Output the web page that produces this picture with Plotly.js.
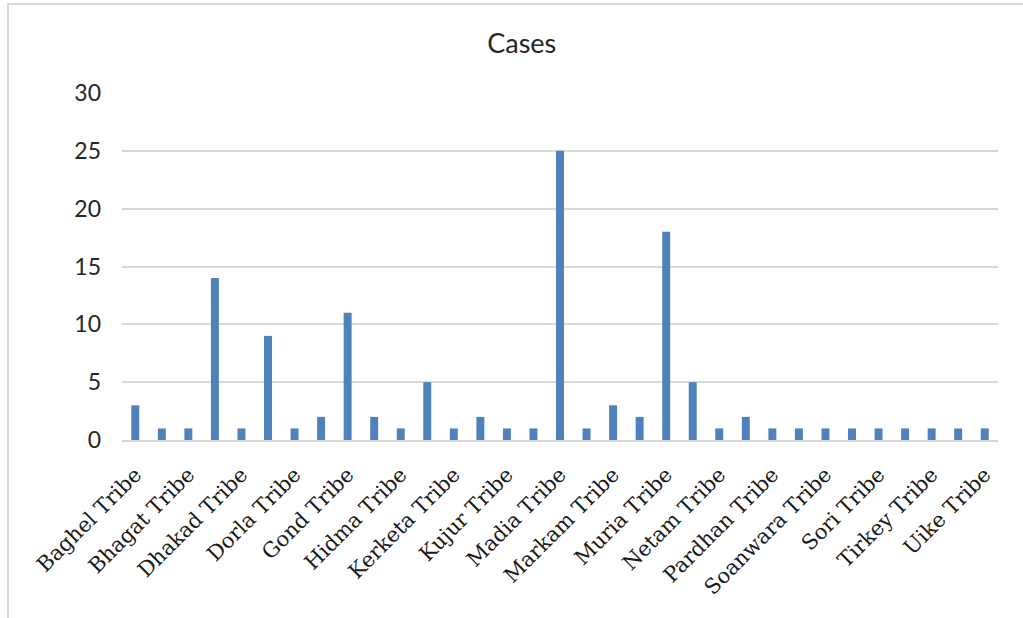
<!DOCTYPE html>
<html>
<head>
<meta charset="utf-8">
<script src="https://cdn.plot.ly/plotly-3.0.1.min.js"></script>
<style>
html,body{margin:0;padding:0;background:#fff;}
#frame{position:absolute;left:7px;top:3px;width:1016px;height:615px;border-left:2px solid #d9d9d9;border-top:2px solid #d9d9d9;box-sizing:border-box;}
#chart{position:absolute;left:0;top:0;width:1023px;height:618px;}
</style>
</head>
<body>
<div id="chart"></div>
<div id="frame"></div>
<script>
const categories = [
  "Baghel Tribe","Baiga Tribe","Bhagat Tribe","Bhatra Tribe","Dhakad Tribe","Dhurwa Tribe",
  "Dorla Tribe","Gadba Tribe","Gond Tribe","Halba Tribe","Hidma Tribe","Kawar Tribe",
  "Kerketa Tribe","Kodopi Tribe","Kujur Tribe","Kunjam Tribe","Madia Tribe","Mandavi Tribe",
  "Markam Tribe","Minj Tribe","Muria Tribe","Nag Tribe","Netam Tribe","Oraon Tribe",
  "Pardhan Tribe","Poyam Tribe","Soanwara Tribe","Sodhi Tribe","Sori Tribe","Tati Tribe",
  "Tirkey Tribe","Toppo Tribe","Uike Tribe"
];
const cases = [3,1,1,14,1,9,1,2,11,2,1,5,1,2,1,1,25,1,3,2,18,5,1,2,1,1,1,1,1,1,1,1,1];
const labeledTicks = ["Baghel Tribe","Bhagat Tribe","Dhakad Tribe","Dorla Tribe","Gond Tribe",
  "Hidma Tribe","Kerketa Tribe","Kujur Tribe","Madia Tribe","Markam Tribe","Muria Tribe",
  "Netam Tribe","Pardhan Tribe","Soanwara Tribe","Sori Tribe","Tirkey Tribe","Uike Tribe"];
const yTicks = [0,5,10,15,20,25,30];

Plotly.newPlot('chart', [{
  type: 'bar',
  x: categories,
  y: cases,
  marker: {color: '#4f81bd'},
  width: 0.3,
  hoverinfo: 'x+y'
}], {
  width: 1023, height: 618,
  margin: {l: 122, r: 25, t: 93, b: 178},
  paper_bgcolor: '#ffffff', plot_bgcolor: '#ffffff',
  title: {text: 'Cases', x: 0.51, xanchor: 'center', y: 0.93, yanchor: 'middle',
          font: {family: 'Lato, sans-serif', size: 27, color: '#262626'}},
  xaxis: {
    type: 'category', tickmode: 'array', tickvals: labeledTicks, ticktext: labeledTicks,
    tickangle: -45, ticks: '', showgrid: false, zeroline: false,
    showline: true, linecolor: '#d9d9d9', linewidth: 2,
    range: [-0.5, 32.5], ticklabelstandoff: 12,
    tickfont: {family: 'DejaVu Serif, serif', size: 21, color: '#1a1a1a'}
  },
  yaxis: {
    range: [0, 30], tickmode: 'array', tickvals: yTicks, ticks: '',
    showgrid: true, gridcolor: '#d9d9d9', gridwidth: 2, zeroline: false,
    showline: false, ticklabelstandoff: 20,
    tickfont: {family: 'Lato, sans-serif', size: 23, color: '#262626'}
  },
  showlegend: false,
  bargap: 0.7
}, {displayModeBar: false, staticPlot: true});
</script>
</body>
</html>
